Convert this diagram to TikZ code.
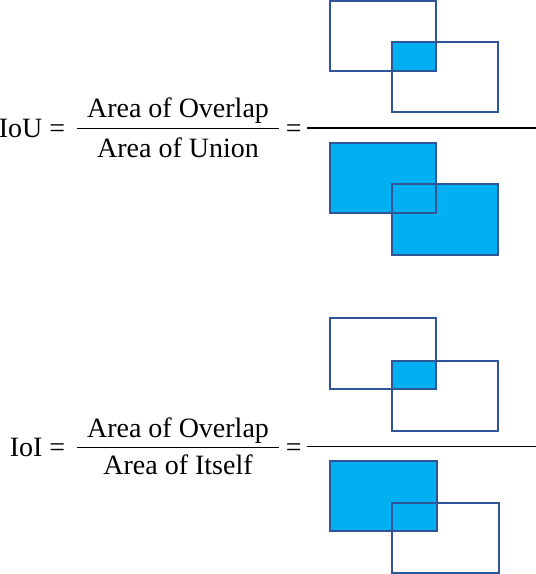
\documentclass[tikz,border=0pt]{standalone}
\usepackage{fontspec}
\setmainfont{Liberation Serif}
\definecolor{boxblue}{HTML}{2F5597}
\definecolor{fillblue}{HTML}{00B0F0}

\begin{document}
\begin{tikzpicture}[x=1pt,y=-1pt,line width=1.5pt,
  lbl/.style={font=\fontsize{28}{32}\selectfont,inner sep=0pt,anchor=base},
  box/.style={draw=boxblue},
  shade/.style={fill=fillblue}]
  \useasboundingbox (0,0) rectangle (536,574);
  % IoU
  \node[lbl,anchor=base east] (iou) at (66,137) {IoU =};
  \node[lbl] (iouNum) at (178,117) {Area of Overlap};
  \node[lbl] (iouDen) at (178,157) {Area of Union};
  \draw[line width=1pt] (77,128) -- (279,128);
  \node[lbl,anchor=base west] (iouEq) at (285,137) {=};
  \draw[line width=2pt] (307,128) -- (536,128);
  \fill[shade] (392,42) rectangle (436,71);
  \draw[box] (330,1) rectangle (436,71);
  \draw[box] (392,42) rectangle (498,112);
  \fill[shade] (330,143) rectangle (436,213);
  \fill[shade] (392,184) rectangle (498,255);
  \draw[box] (330,143) rectangle (436,213);
  \draw[box] (392,184) rectangle (498,255);
  % IoI
  \node[lbl,anchor=base east] (ioi) at (66,456) {IoI =};
  \node[lbl] (ioiNum) at (178,437) {Area of Overlap};
  \node[lbl] (ioiDen) at (178,474) {Area of Itself};
  \draw[line width=1pt] (77,447) -- (279,447);
  \node[lbl,anchor=base west] (ioiEq) at (285,456) {=};
  \draw[line width=1pt] (307,446) -- (536,446);
  \fill[shade] (392,361) rectangle (436,389);
  \draw[box] (330,318) rectangle (436,389);
  \draw[box] (392,361) rectangle (498,431);
  \fill[shade] (330,461) rectangle (437,531);
  \draw[box] (330,461) rectangle (437,531);
  \draw[box] (392,503) rectangle (499,573);
\end{tikzpicture}
\end{document}
